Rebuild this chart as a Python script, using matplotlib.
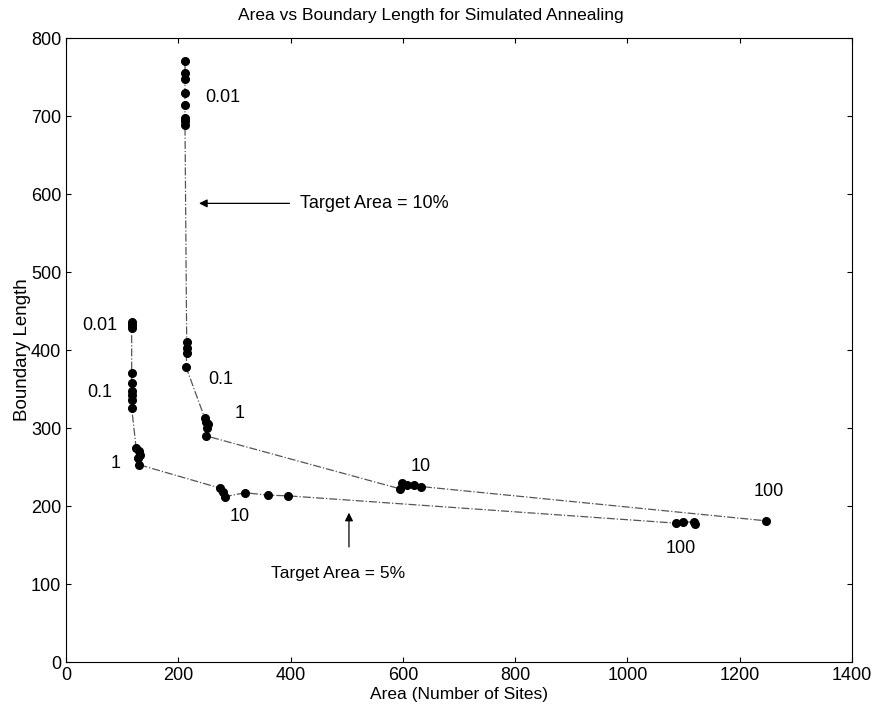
import matplotlib
matplotlib.use("Agg")
import matplotlib.pyplot as plt
import numpy as np

plt.rcParams['font.family'] = ['Liberation Sans', 'DejaVu Sans']

# Target Area = 10%
area_10 = [212, 212, 212, 212, 212, 212, 212, 212,
           215, 215, 215, 214,
           247, 250, 253, 251, 249,
           595, 598, 608, 620, 632,
           1247]
bound_10 = [770, 755, 748, 729, 714, 698, 693, 689,
            410, 403, 396, 378,
            313, 308, 305, 300, 290,
            222, 230, 227, 227, 225,
            181]

# Target Area = 5%
area_5 = [117, 117, 117,
          117, 117, 117, 117, 117, 117,
          125, 130, 132, 128, 130,
          274, 280, 283, 319, 359, 396,
          1087, 1099, 1118, 1120]
bound_5 = [436, 432, 428,
           370, 358, 348, 342, 336, 326,
           274, 270, 265, 262, 253,
           223, 218, 212, 217, 214, 213,
           178, 180, 179, 177]

labels = [("0.01", 280, 724), ("0.1", 276, 362), ("1", 310, 318), ("10", 631, 251), ("100", 1252, 219),
          ("0.01", 60, 432), ("0.1", 60, 345), ("1", 89, 255), ("10", 310, 187), ("100", 1095, 146)]

fig = plt.figure(figsize=(8.83, 7.13), dpi=100)
ax = fig.add_axes([0.0747, 0.0715, 0.8903, 0.8752])

ax.plot(area_10, bound_10, linestyle='-.', color='#555555', linewidth=0.9)
ax.plot(area_5, bound_5, linestyle='-.', color='#555555', linewidth=0.9)
ax.plot(area_10, bound_10, 'o', color='black', markersize=5.5, linestyle='none')
ax.plot(area_5, bound_5, 'o', color='black', markersize=5.5, linestyle='none')

for txt, x, y in labels:
    ax.text(x, y, txt, fontsize=13, ha='center', va='center')

ax.annotate("", xy=(232, 588), xytext=(403, 588),
            arrowprops=dict(arrowstyle='-|>', color='black', lw=0.9, mutation_scale=12))
ax.text(417, 588, "Target Area = 10%", fontsize=13, ha='left', va='center')
ax.annotate("", xy=(504, 195), xytext=(504, 144),
            arrowprops=dict(arrowstyle='-|>', color='black', lw=0.9, mutation_scale=12))
ax.text(484, 113, "Target Area = 5%", fontsize=12.5, ha='center', va='center')

ax.set_xlim(0, 1400)
ax.set_ylim(0, 800)
ax.set_xticks(np.arange(0, 1401, 200))
ax.set_yticks(np.arange(0, 801, 100))
ax.tick_params(direction='in', top=True, right=True, labelsize=13)
ax.set_title("Area vs Boundary Length for Simulated Annealing", fontsize=12.5, pad=13, x=0.464)
ax.set_xlabel("Area (Number of Sites)", fontsize=12.5, labelpad=2)
ax.set_ylabel("Boundary Length", fontsize=13.5, labelpad=0)

fig.savefig("out.png", dpi=100)
